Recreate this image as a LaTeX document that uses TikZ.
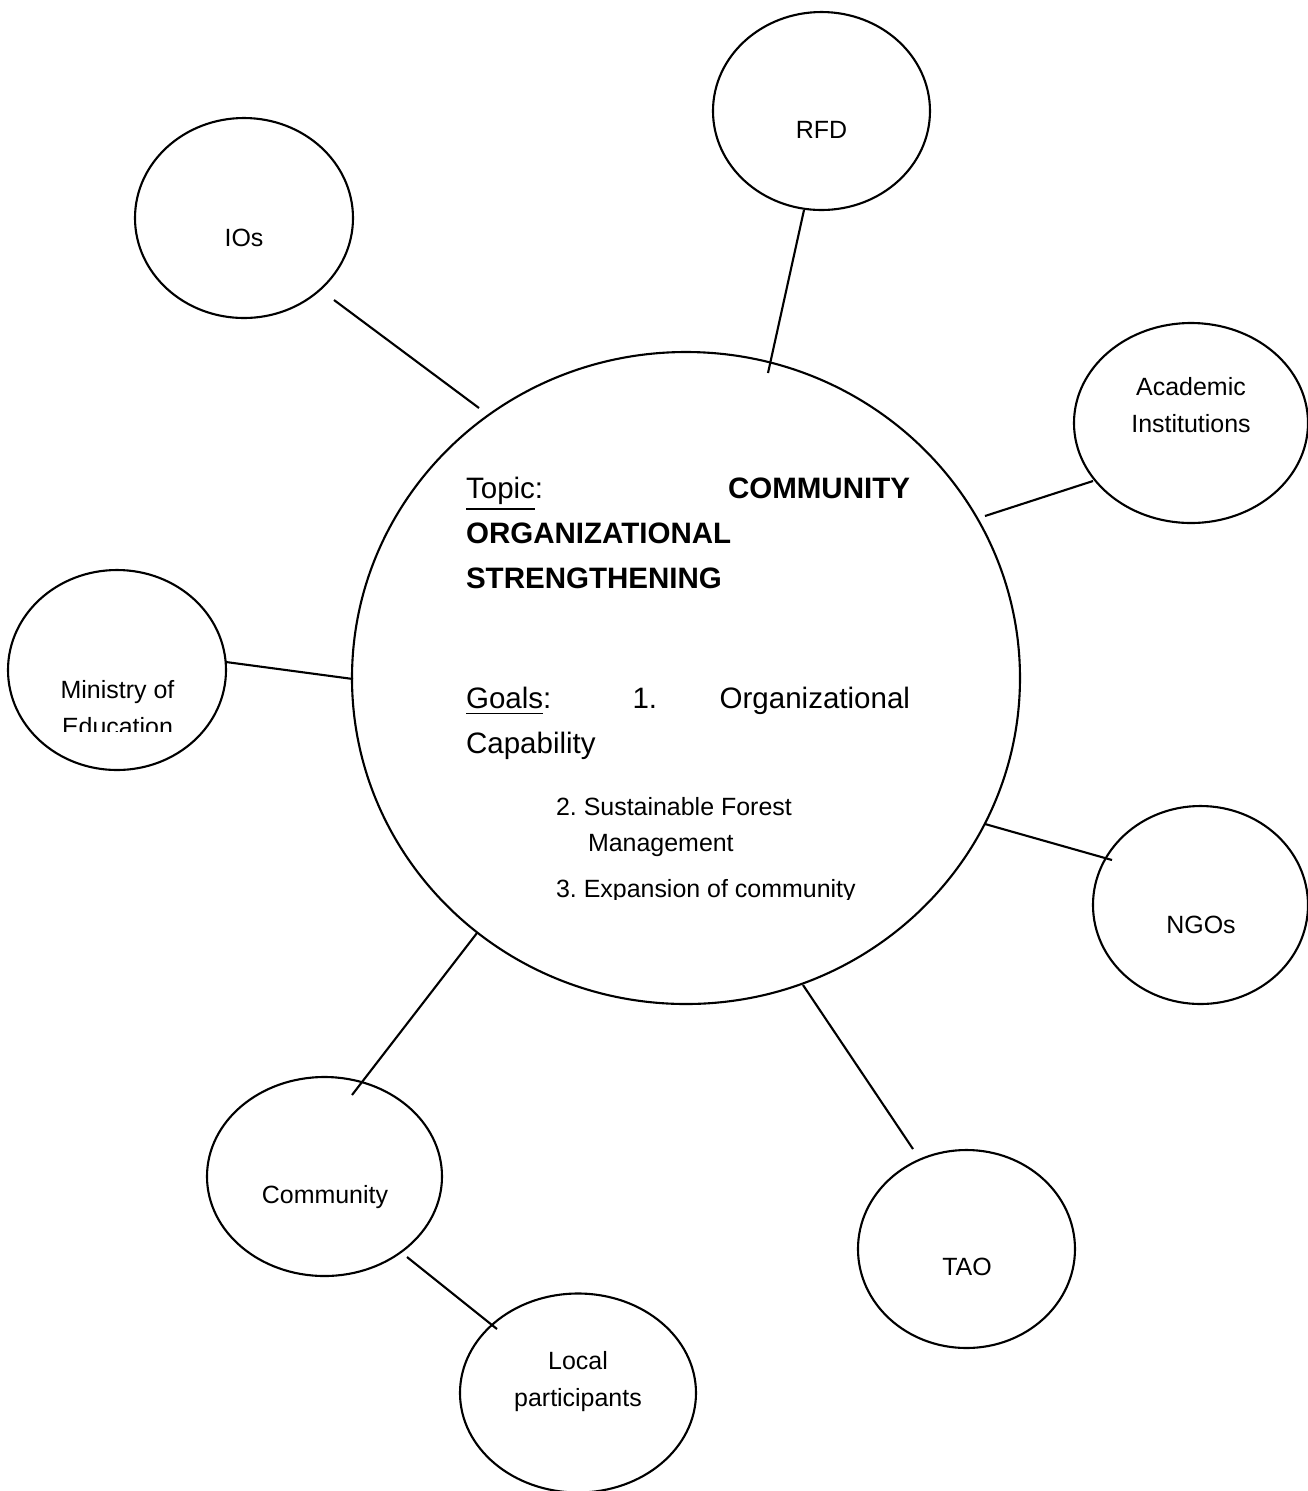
\documentclass[tikz,border=0pt]{standalone}
\usepackage{fontspec}
\setmainfont{Liberation Sans}
\usetikzlibrary{shapes.geometric}

\newcommand{\orgsize}{\fontsize{7.1}{10.5}\selectfont}
\newcommand{\topicsize}{\fontsize{8.4}{12.8}\selectfont}
\frenchspacing

\begin{document}
\begin{tikzpicture}[line width=.6pt,
	org/.style={draw, ellipse, inner sep=0pt, outer sep=0pt},
	orgtext/.style={font=\orgsize, align=center, inner sep=0pt},
	topicline/.style={font=\topicsize, anchor=base west, inner sep=0pt, text width=4.44cm, align=left},
	goalline/.style={font=\orgsize, anchor=base west, inner sep=0pt}]
				\useasboundingbox (0,0) rectangle (13.08,-14.91);
				%Circulo central
				\node[org, minimum width=6.68cm, minimum height=6.52cm] (main) at (6.86,-6.78) {};
				%Circulos
				\node[org, minimum width=2.17cm, minimum height=1.98cm] (rfd) at (8.215,-1.11) {};
				\node[org, minimum width=2.18cm, minimum height=2.00cm] (ios) at (2.44,-2.18) {};
				\node[org, minimum width=2.34cm, minimum height=2.00cm] (acad) at (11.91,-4.23) {};
				\node[org, minimum width=2.18cm, minimum height=2.00cm] (minis) at (1.17,-6.70) {};
				\node[org, minimum width=2.15cm, minimum height=1.98cm] (ngos) at (12.005,-9.05) {};
				\node[org, minimum width=2.17cm, minimum height=1.98cm] (tao) at (9.665,-12.49) {};
				\node[org, minimum width=2.35cm, minimum height=1.99cm] (comm) at (3.245,-11.765) {};
				\node[org, minimum width=2.36cm, minimum height=1.99cm] (local) at (5.78,-13.93) {};
				%Textos
				\node[orgtext] (rfdlabel) at (8.215,-1.30) {RFD};
				\node[orgtext] (ioslabel) at (2.44,-2.38) {IOs};
				\node[orgtext] (acadlabel) at (11.91,-4.055) {Academic\\Institutions};
				\node[orgtext] (ngoslabel) at (12.01,-9.25) {NGOs};
				\node[orgtext] (taolabel) at (9.67,-12.67) {TAO};
				\node[orgtext] (commlabel) at (3.25,-11.97) {Community};
				\node[orgtext] (locallabel) at (5.78,-13.815) {Local\\participants};
				\begin{scope}
					\clip (0.2,-6.6) rectangle (2.1,-7.31);
					\node[orgtext] (minislabel) at (1.175,-7.08) {Ministry of\\Education};
				\end{scope}
				%Tema y metas
				\node[topicline] (topic1) at (4.65,-4.98) {\underline{Topic}:\hfill\textbf{COMMUNITY}};
				\node[topicline] (topic2) at (4.65,-5.43) {\textbf{ORGANIZATIONAL}};
				\node[topicline] (topic3) at (4.65,-5.88) {\textbf{STRENGTHENING}};
				\node[topicline] (goal1) at (4.65,-7.08) {\underline{Goals}:\hskip 0pt plus 1.3fill 1.\hfill Organizational};
				\node[topicline] (goal1b) at (4.65,-7.53) {Capability};
				\node[goalline] (goal2) at (5.55,-8.15) {2. Sustainable Forest};
				\node[goalline] (goal2b) at (5.87,-8.51) {Management};
				\begin{scope}
					\clip (5.4,-8.70) rectangle (8.9,-8.995);
					\node[goalline] (goal3) at (5.55,-8.97) {3. Expansion of community};
				\end{scope}
				%Lineas
				\draw ([shift={(0.90,-0.82)}]ios.center) -- ([shift={(-2.07,2.70)}]main.center);
				\draw ([shift={(-0.175,-0.99)}]rfd.center) -- ([shift={(0.82,3.05)}]main.center);
				\draw ([shift={(2.99,1.62)}]main.center) -- ([shift={(-0.98,-0.58)}]acad.center);
				\draw ([shift={(1.09,0.08)}]minis.center) -- ([shift={(-3.33,-0.01)}]main.center);
				\draw ([shift={(2.99,-1.46)}]main.center) -- ([shift={(-0.885,0.45)}]ngos.center);
				\draw ([shift={(1.17,-3.07)}]main.center) -- ([shift={(-0.535,1.00)}]tao.center);
				\draw ([shift={(-2.09,-2.55)}]main.center) -- ([shift={(0.275,0.815)}]comm.center);
				\draw ([shift={(0.825,-0.805)}]comm.center) -- ([shift={(-0.81,0.64)}]local.center);
\end{tikzpicture}
\end{document}
